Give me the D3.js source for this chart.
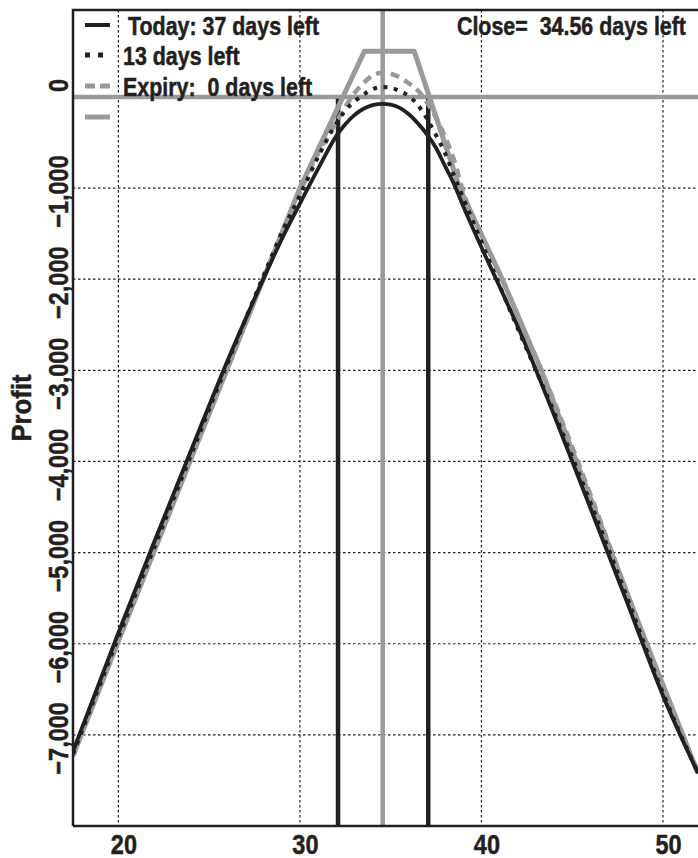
<!DOCTYPE html>
<html><head><meta charset="utf-8">
<script src="https://cdn.jsdelivr.net/npm/d3@7"></script>
<style>
body{margin:0;background:#fff}
text{font-family:"Liberation Sans",Arial,"DejaVu Sans",sans-serif;font-weight:bold;fill:#231f20;stroke:#231f20;stroke-width:0.5px;white-space:pre}
</style>
</head><body>
<svg id="c" width="698" height="858"></svg>
<script>
// ---- data ----
const xTicks = [20, 30, 40, 50];
const yTicks = [0, -1000, -2000, -3000, -4000, -5000, -6000, -7000];
const xs = [17.5, 20, 22, 24, 26, 28, 29, 30, 31, 32, 32.5, 33, 33.5, 34, 34.56, 35, 35.5, 36, 36.5, 37, 37.5, 38, 38.5, 39, 40, 41, 42, 44, 46, 48, 50, 51.93];
const today  = [-7180, -5880, -4870, -3880, -2900, -1992, -1560, -1170, -790, -430, -300, -200, -130, -90, -75, -85, -120, -190, -290, -410, -560, -760, -960, -1200, -1650, -2080, -2520, -3490, -4510, -5535, -6570, -7420];
const days13 = [-7210, -5930, -4930, -3930, -2930, -1960, -1490, -1080, -660, -290, -150, -50, 25, 85, 109, 100, 65, 10, -90, -240, -420, -620, -870, -1110, -1590, -2070, -2540, -3460, -4450, -5480, -6540, -7420];
const expiry = [-7230, -5970, -4970, -3970, -2985, -1990, -1520, -1050, -620, -280, -110, 40, 150, 235, 266, 255, 215, 150, 70, -60, -230, -440, -700, -1045, -1510, -1940, -2400, -3340, -4360, -5430, -6480, -7420];
const payoffX = [17.5, 20, 24, 28, 30, 33.55, 36.3, 38.8, 41.15, 43.3, 46, 49.1, 51.93];
const payoffY = [-7230, -5970, -3970, -1990, -1000, 500, 500, -1000, -2000, -3000, -4400, -6000, -7420];
const closePrice = 34.56;
const rangeMarks = [32.1, 37.07];
const legendLabels = ["Today: 37 days left", "13 days left", "Expiry:  0 days left", ""];
const closeLabel = "Close=  34.56 days left";
const yTitle = "Profit";

// ---- layout ----
const L = 73, T = 10, R = 698, B = 826;
const black = "#231f20", gray = "#9a9a9a";
const K = 0.84; // condensed look

const svg = d3.select("#c");
const x = d3.scaleLinear().domain([17.5, 51.93]).range([L, R]);
const y = d3.scaleLinear().domain([-8000, 954]).range([B, T]);

svg.append("clipPath").attr("id", "clip").append("rect")
  .attr("x", L).attr("y", T).attr("width", R - L).attr("height", B - T);

// grid
const grid = svg.append("g");
grid.selectAll(".vg").data(xTicks).join("line")
  .attr("x1", d => x(d)).attr("x2", d => x(d)).attr("y1", T).attr("y2", B)
  .attr("stroke", black).attr("stroke-width", 1.2).attr("stroke-dasharray", "2.5,2.5");
grid.selectAll(".hg").data(yTicks.filter(d => d !== 0)).join("line")
  .attr("x1", L).attr("x2", R).attr("y1", d => y(d)).attr("y2", d => y(d))
  .attr("stroke", black).attr("stroke-width", 1.2).attr("stroke-dasharray", "2.5,2.5");

const plot = svg.append("g").attr("clip-path", "url(#clip)");

// reference lines
plot.append("line").attr("x1", L).attr("x2", R).attr("y1", y(0)).attr("y2", y(0))
  .attr("stroke", gray).attr("stroke-width", 4.5);
plot.append("line").attr("x1", x(closePrice)).attr("x2", x(closePrice)).attr("y1", T).attr("y2", B)
  .attr("stroke", gray).attr("stroke-width", 4.5);
plot.selectAll(".rm").data(rangeMarks).join("line")
  .attr("x1", d => x(d)).attr("x2", d => x(d)).attr("y1", y(-20)).attr("y2", B)
  .attr("stroke", black).attr("stroke-width", 4.5);

// curves
const mk = (X, Y) => X.map((v, i) => [v, Y[i]]);
const line = d3.line().x(d => x(d[0])).y(d => y(d[1]));
const smooth = d3.line().x(d => x(d[0])).y(d => y(d[1])).curve(d3.curveMonotoneX);

plot.append("path").attr("d", line(mk(payoffX, payoffY)))
  .attr("fill", "none").attr("stroke", gray).attr("stroke-width", 5).attr("stroke-linejoin", "round");
plot.append("path").attr("d", smooth(mk(xs, expiry)))
  .attr("fill", "none").attr("stroke", gray).attr("stroke-width", 4.5).attr("stroke-dasharray", "9,6");
plot.append("path").attr("d", smooth(mk(xs, days13)))
  .attr("fill", "none").attr("stroke", black).attr("stroke-width", 4).attr("stroke-dasharray", "4,6.5");
plot.append("path").attr("d", smooth(mk(xs, today)))
  .attr("fill", "none").attr("stroke", black).attr("stroke-width", 3.8);

// axes
const xAxis = d3.axisBottom(x).tickValues(xTicks).tickSize(0).tickPadding(0).tickFormat(d3.format("d"));
const gx = svg.append("g").attr("transform", `translate(0,${B})`).call(xAxis);
gx.select(".domain").remove();
gx.selectAll(".tick text").attr("x", 0).attr("y", 0).attr("dy", 0)
  .attr("transform", `translate(5,28) scale(${K},1)`)
  .style("font-size", "28px").style("font-family", null);

const yAxis = d3.axisLeft(y).tickValues(yTicks).tickSize(0).tickFormat(d3.format(","));
const gy = svg.append("g").attr("transform", `translate(${L},0)`).call(yAxis);
gy.select(".domain").remove();
gy.selectAll(".tick text")
  .attr("x", 0).attr("y", 0).attr("dy", 0)
  .attr("text-anchor", "middle")
  .attr("transform", d => `translate(-5,${d === 0 ? -12 : 3}) rotate(-90) scale(${K},1)`)
  .style("font-size", "28px").style("font-family", null);

// frame
svg.append("path").attr("d", `M${L},${B}H${R}M${L},${B}V${T}H${R}`)
  .attr("fill", "none").attr("stroke", black).attr("stroke-width", 2.5);

// y title
svg.append("text").attr("transform", `translate(31,408) rotate(-90) scale(0.92,1)`)
  .attr("text-anchor", "middle").style("font-size", "28px").text(yTitle);

// legend
const legY = [25, 55, 86, 117];
const legStyles = [
  {stroke: black, dash: null, w: 4, x2: 110},
  {stroke: black, dash: "5,8", w: 5, x2: 104},
  {stroke: gray, dash: "10,5", w: 5, x2: 110},
  {stroke: gray, dash: null, w: 5, x2: 110}
];
const leg = svg.append("g");
legendLabels.forEach((t, i) => {
  leg.append("line").attr("x1", 85).attr("x2", legStyles[i].x2).attr("y1", legY[i]).attr("y2", legY[i])
    .attr("stroke", legStyles[i].stroke).attr("stroke-width", legStyles[i].w)
    .attr("stroke-dasharray", legStyles[i].dash);
  if (t) leg.append("text")
    .attr("transform", `translate(${i === 0 ? 128 : 123},${legY[i] + 10}) scale(${K},1)`)
    .style("font-size", "25.5px").text(t);
});
svg.append("text").attr("transform", `translate(686,35) scale(${K},1)`).attr("text-anchor", "end")
  .style("font-size", "25.5px").text(closeLabel);
</script>
</body></html>
